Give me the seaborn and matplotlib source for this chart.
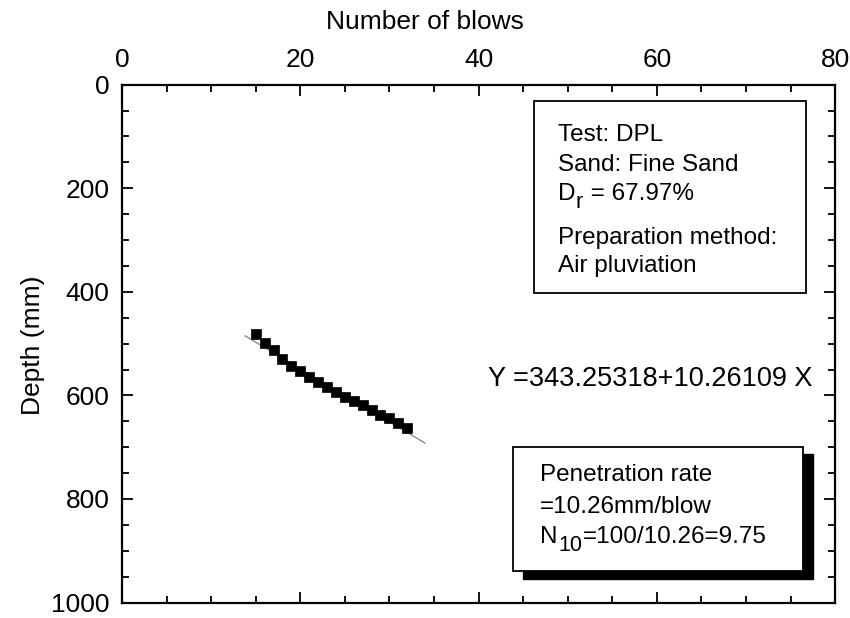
import numpy as np
import pandas as pd
import seaborn as sns
import matplotlib
matplotlib.use("Agg")
import matplotlib.pyplot as plt
from matplotlib.patches import Rectangle
from matplotlib.ticker import MultipleLocator

# ---- data ----
blows = [15, 16, 17, 18, 19, 20, 21, 22, 23, 24, 25, 26, 27, 28, 29, 30, 31, 32]
depth = [482, 498, 513, 529, 543, 553, 564, 574, 584, 594, 603, 611, 619, 628, 637, 644, 653, 663]
fit_intercept = 343.25318
fit_slope = 10.26109
fit_range = [13.8, 34.0]
x_ticks = [0, 20, 40, 60, 80]
y_ticks = [0, 200, 400, 600, 800, 1000]

eq_text = "Y =343.25318+10.26109 X"

sns.set_theme(style="white")
plt.rcParams['font.family'] = ['Liberation Sans', 'DejaVu Sans']
for k in ["text.color", "axes.labelcolor", "xtick.color", "ytick.color", "axes.edgecolor"]:
    plt.rcParams[k] = "black"

df = pd.DataFrame({"blows": blows, "depth": depth})
fit_x = np.array(fit_range)
fit_df = pd.DataFrame({"x": fit_x, "y": fit_intercept + fit_slope * fit_x})

fig = plt.figure(figsize=(8.5, 6.18), dpi=100)
ax = fig.add_axes([0.1435, 0.025, 0.839, 0.838])

sns.lineplot(data=fit_df, x="x", y="y", ax=ax, color="#8a8a8a", linewidth=1.0)
sns.scatterplot(data=df, x="blows", y="depth", ax=ax, marker="s", s=50,
                color="black", edgecolor="black", linewidth=0.5, zorder=3)

ax.set_xlim(0, 80)
ax.set_ylim(1000, 0)
ax.set_xticks(x_ticks)
ax.set_yticks(y_ticks)
ax.xaxis.set_minor_locator(MultipleLocator(5))
ax.yaxis.set_minor_locator(MultipleLocator(50))
ax.tick_params(which="both", direction="in", top=True, bottom=True, left=True, right=True,
               labeltop=True, labelbottom=False, color="black", width=1.3)
ax.tick_params(which="major", length=8, labelsize=19, pad=9)
ax.tick_params(which="minor", length=5)
ax.set_xlabel("")
ax.set_ylabel("")
for s in ax.spines.values():
    s.set_linewidth(1.6)
    s.set_color("black")

fig.text(425 / 850, 1 - 22 / 618, "Number of blows", ha="center", va="center", fontsize=19)
fig.text(33 / 850, 1 - 345 / 618, "Depth (mm)", ha="center", va="center", rotation=90, fontsize=19)

FS = 17.5
SUB = 15.5


def sub_line(x, y, main, sub, rest, z):
    """Text with a large, low subscript, like the reference."""
    wmain = 0.722 * FS
    wsub = 0.556 * SUB * len(sub) if sub.isdigit() else 0.333 * SUB
    ax.annotate(main, (x, y), xycoords="axes fraction", ha="left", va="baseline",
                fontsize=FS, zorder=z)
    ax.annotate(sub, (x, y), xycoords="axes fraction", xytext=(wmain + 0.5, -5.5),
                textcoords="offset points", ha="left", va="baseline", fontsize=SUB, zorder=z)
    ax.annotate(rest, (x, y), xycoords="axes fraction", xytext=(wmain + wsub + 1.0, 0),
                textcoords="offset points", ha="left", va="baseline", fontsize=FS, zorder=z)


# info box
ax.add_patch(Rectangle((0.578, 0.597), 0.959 - 0.578, 0.969 - 0.597, transform=ax.transAxes,
                       facecolor="white", edgecolor="black", linewidth=1.3, zorder=4))
ax.text(0.611, 0.891, "Test: DPL", transform=ax.transAxes, ha="left", va="baseline", fontsize=FS, zorder=5)
ax.text(0.611, 0.833, "Sand: Fine Sand", transform=ax.transAxes, ha="left", va="baseline", fontsize=FS, zorder=5)
sub_line(0.611, 0.777, "D", "r", " = 67.97%", 5)
ax.text(0.611, 0.693, "Preparation method:", transform=ax.transAxes, ha="left", va="baseline", fontsize=FS, zorder=5)
ax.text(0.611, 0.639, "Air pluviation", transform=ax.transAxes, ha="left", va="baseline", fontsize=FS, zorder=5)

# equation
ax.text(0.513, 0.418, eq_text, transform=ax.transAxes, ha="left", va="baseline", fontsize=19.5)

# rate box with shadow
ax.add_patch(Rectangle((0.548 + 0.014, 0.061 - 0.015), 0.955 - 0.548, 0.301 - 0.061,
                       transform=ax.transAxes, facecolor="black", edgecolor="black", zorder=4))
ax.add_patch(Rectangle((0.548, 0.061), 0.955 - 0.548, 0.301 - 0.061, transform=ax.transAxes,
                       facecolor="white", edgecolor="black", linewidth=1.3, zorder=5))
ax.text(0.586, 0.234, "Penetration rate", transform=ax.transAxes, ha="left", va="baseline", fontsize=FS, zorder=6)
ax.text(0.586, 0.173, "=10.26mm/blow", transform=ax.transAxes, ha="left", va="baseline", fontsize=FS, zorder=6)
sub_line(0.586, 0.115, "N", "10", "=100/10.26=9.75", 6)

fig.savefig("out.png", dpi=100)
